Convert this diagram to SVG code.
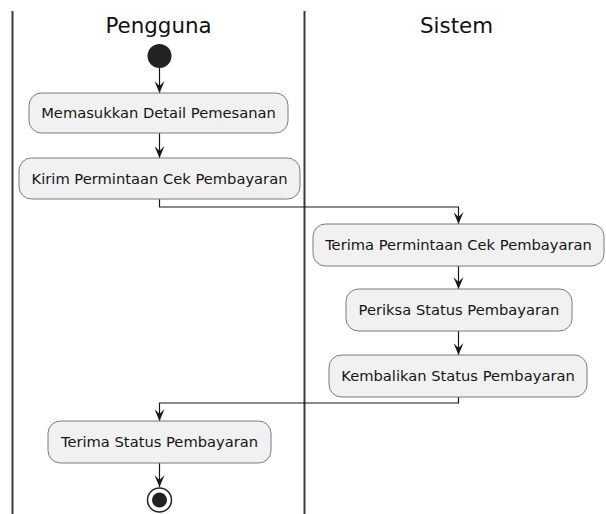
<svg xmlns="http://www.w3.org/2000/svg" width="606" height="514" viewBox="0 0 606 514">
  <style>
    .lane { stroke: #3a3a3a; stroke-width: 2; fill: none; }
    .title { font-family: "DejaVu Sans", "Liberation Sans", sans-serif; font-size: 21.4px; fill: #111; text-anchor: middle; }
    .act rect { fill: #F1F1F1; stroke: #7a7a7a; stroke-width: 1; }
    .act text { font-family: "DejaVu Sans", "Liberation Sans", sans-serif; font-size: 14.7px; fill: #161616; text-anchor: middle; }
    .flow { stroke: #181818; stroke-width: 1.2; fill: none; marker-end: url(#ah); }
  </style>
  <defs>
    <marker id="ah" viewBox="0 0 12 10" refX="12" refY="5" markerWidth="12" markerHeight="10" markerUnits="userSpaceOnUse" orient="auto">
      <path d="M0,0 L12,5 L0,10 L5,5 Z" fill="#181818"/>
    </marker>
  </defs>
  <rect width="606" height="514" fill="#ffffff"/>

  <!-- swimlanes -->
  <g id="lanes">
    <line class="lane" x1="12.5" y1="11" x2="12.5" y2="514"/>
    <line class="lane" x1="304.5" y1="11" x2="304.5" y2="514"/>
    <text class="title" x="158.5" y="33">Pengguna</text>
    <text class="title" x="456.5" y="33">Sistem</text>
  </g>

  <!-- connectors -->
  <g id="connectors">
    <path class="flow" d="M159.5,68 L159.5,93"/>
    <path class="flow" d="M159.5,133 L159.5,158"/>
    <path class="flow" d="M159.5,199 L159.5,207 L458.5,207 L458.5,224"/>
    <path class="flow" d="M458.5,266 L458.5,289"/>
    <path class="flow" d="M458.5,331 L458.5,355"/>
    <path class="flow" d="M458.5,397 L458.5,403 L159.5,403 L159.5,421"/>
    <path class="flow" d="M159.5,463 L159.5,487"/>
  </g>

  <!-- start -->
  <g id="start">
    <circle cx="159.5" cy="56" r="12" fill="#222222"/>
  </g>

  <g id="a1" class="act">
    <rect x="29" y="93" width="259" height="40" rx="12.5"/>
    <text x="158.5" y="118">Memasukkan Detail Pemesanan</text>
  </g>
  <g id="a2" class="act">
    <rect x="19" y="158" width="281" height="41" rx="12.5"/>
    <text x="159.5" y="183.5">Kirim Permintaan Cek Pembayaran</text>
  </g>
  <g id="a3" class="act">
    <rect x="313" y="224" width="291" height="42" rx="12.5"/>
    <text x="458.5" y="250">Terima Permintaan Cek Pembayaran</text>
  </g>
  <g id="a4" class="act">
    <rect x="346" y="289" width="226" height="42" rx="12.5"/>
    <text x="459" y="315">Periksa Status Pembayaran</text>
  </g>
  <g id="a5" class="act">
    <rect x="329" y="355" width="258" height="42" rx="12.5"/>
    <text x="458" y="381">Kembalikan Status Pembayaran</text>
  </g>
  <g id="a6" class="act">
    <rect x="48" y="421" width="223" height="42" rx="12.5"/>
    <text x="159.5" y="447">Terima Status Pembayaran</text>
  </g>

  <!-- end -->
  <g id="end">
    <circle cx="159.5" cy="500" r="12" fill="#ffffff" stroke="#222222" stroke-width="1.5"/>
    <circle cx="159.5" cy="500" r="7.5" fill="#222222"/>
  </g>
</svg>
